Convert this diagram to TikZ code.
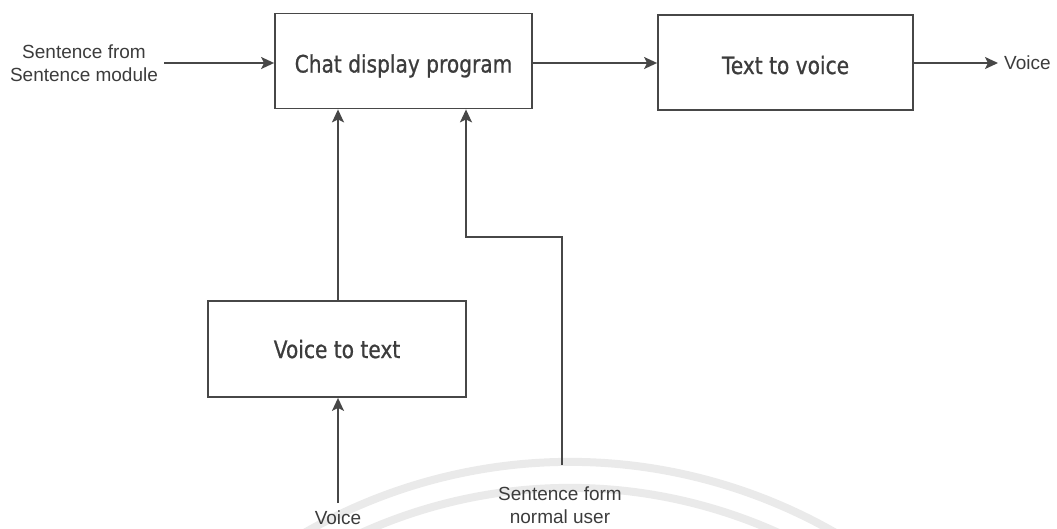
\documentclass[tikz,border=0pt]{standalone}
\usepackage{fontspec}
\setmainfont{Liberation Sans}
\newfontfamily\boxfont{DejaVu Sans}[FakeStretch=0.84,FakeBold=0.8]
\usetikzlibrary{arrows.meta}
\definecolor{ln}{HTML}{474747}
\definecolor{tx}{HTML}{3C3C3C}
\definecolor{wm}{HTML}{EAEAEA}
\begin{document}
\begin{tikzpicture}[x=1pt,y=-1pt,
  blk/.style={draw=ln,line width=1.8pt,minimum width=257pt,minimum height=95pt,inner sep=0pt,
    font=\boxfont\fontsize{24}{28}\selectfont,text=tx,text height=23pt,text depth=0pt},
  lbl/.style={font=\fontsize{19}{23}\selectfont,text=tx,align=center,inner sep=0pt},
  conn/.style={draw=ln,line width=1.8pt,-{Stealth[length=13pt,width=12pt,inset=3pt]}},
  wmark/.style={draw=wm,line width=8pt}]
\useasboundingbox (0,0) rectangle (1057,528);
% faint watermark arcs
\draw[wmark] (570,995) ++(200:533) arc[start angle=200,end angle=340,radius=533];
\draw[wmark] (570,995) ++(200:507) arc[start angle=200,end angle=340,radius=507];
% blocks
\node[blk] (chat) at (403.5,61) {Chat display program};
\node[blk,minimum width=255pt] (ttv) at (785.5,62.5) {Text to voice};
\node[blk,minimum width=258pt,minimum height=96pt,text height=18pt] (vtt) at (337,349) {Voice to text};
% labels
\node[lbl] (src) at (84,63) {Sentence from\\Sentence module};
\node[lbl,anchor=west] (vout) at (1004,63) {Voice};
\node[lbl] (vin) at (338,518) {Voice};
\node[lbl] (su) at (560,505) {Sentence form\\normal user};
\coordinate (srcE) at (164,63);
\coordinate (voutW) at (998,63);
\coordinate (vinN) at (338,503);
\coordinate (vx) at (338,0);
\coordinate (suN) at (562,465);
\coordinate (bend1) at (562,237);
\coordinate (bend2) at (466,237);
% connectors
\draw[conn] (srcE) -- (srcE -| chat.west);
\draw[conn] (chat.east |- srcE) -- (ttv.west |- srcE);
\draw[conn] (ttv.east |- srcE) -- (voutW);
\draw[conn] (vtt.north -| vx) -- (chat.south -| vx);
\draw[conn] (vinN) -- (vtt.south -| vinN);
\draw[conn] (suN) -- (bend1) -- (bend2) -- (chat.south -| bend2);
\end{tikzpicture}
\end{document}
